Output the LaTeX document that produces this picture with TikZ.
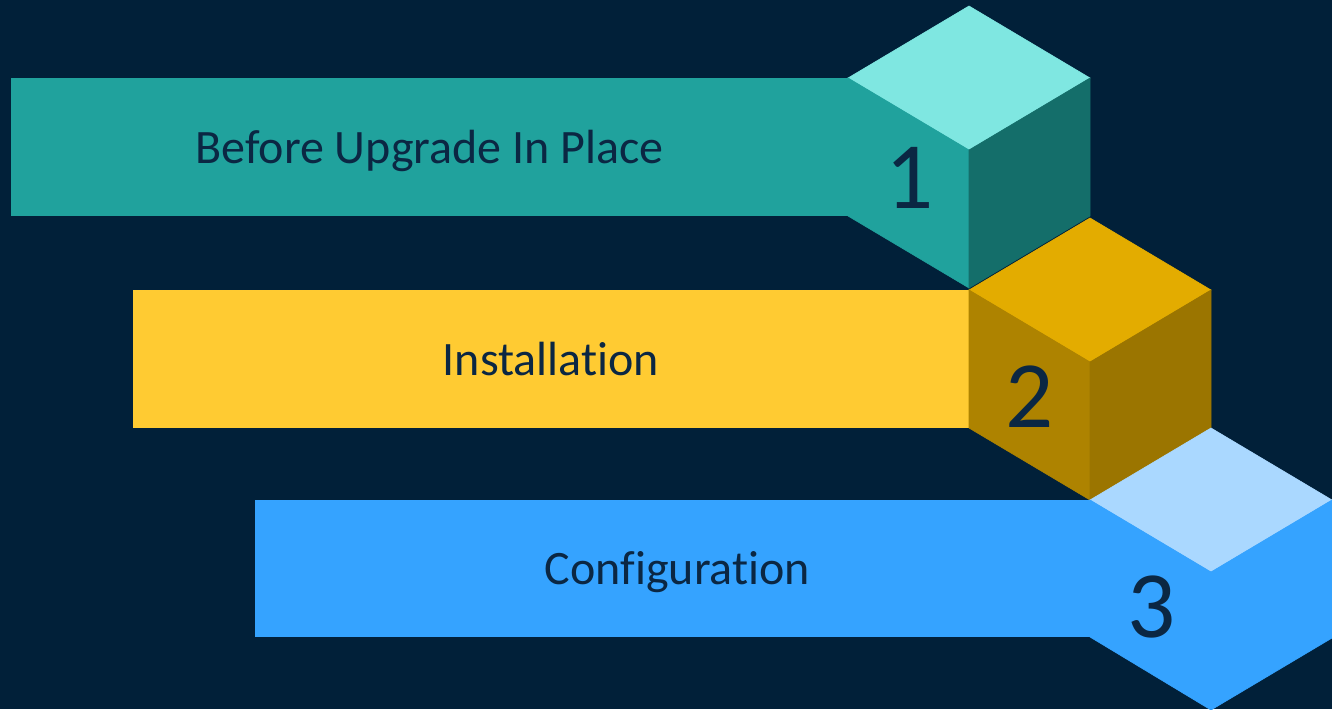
\documentclass[tikz,border=0pt]{standalone}
\usepackage{fontspec}
\setmainfont[Ligatures=NoCommon]{Carlito}
\usepackage{tikz}
\usetikzlibrary{calc}

\definecolor{bgnavy}{HTML}{012039}
\definecolor{inknavy}{HTML}{0B2743}
\definecolor{tealbar}{HTML}{20A29D}
\definecolor{tealtop}{HTML}{7FE7E1}
\definecolor{tealside}{HTML}{146E6A}
\definecolor{goldbar}{HTML}{FFCB32}
\definecolor{goldtop}{HTML}{E3AC00}
\definecolor{goldfront}{HTML}{AE8300}
\definecolor{goldside}{HTML}{9B7500}
\definecolor{bluebar}{HTML}{35A3FF}
\definecolor{bluetop}{HTML}{AAD8FF}

\tikzset{
  face/.style={fill=#1, draw=#1, line width=0.6pt, line join=miter},
  steplabel/.style={text=inknavy, anchor=base, yshift=-16pt, font=\fontsize{48}{58}\selectfont},
  stepnum/.style={text=inknavy, anchor=base, font=\fontsize{95}{110}\selectfont}
}

\begin{document}
\begin{tikzpicture}[x=1pt,y=-1pt]
        \useasboundingbox (0,0) rectangle (1332,709);
        \fill [bgnavy] (0,0) rectangle (1332,709);

        % step 1
        \fill [tealbar] (11,78) rectangle (848,216) node[pos=.5, steplabel] (lab1) {Before Upgrade In Place};
        \path [face=tealtop] (848,78) -- (969,6) -- (1090,78) -- (969,150) -- cycle;
        \path [face=tealbar] (848,78) -- (969,150) -- (969,288) -- (848,216) -- cycle;
        \path [face=tealside] (969,150) -- (1090,78) -- (1090,216) -- (969,288) -- cycle;
        \node [stepnum] (num1) at (910,208) {1};

        % step 2
        \fill [goldbar] (133,290) rectangle (969,428) node[pos=.5, steplabel] (lab2) {Installation};
        \path [face=goldtop] (969,290) -- (1090,218) -- (1211,290) -- (1090,362) -- cycle;
        \path [face=goldfront] (969,290) -- (1090,362) -- (1090,500) -- (969,428) -- cycle;
        \path [face=goldside] (1090,362) -- (1211,290) -- (1211,428) -- (1090,500) -- cycle;
        \node [stepnum] (num2) at (1030,427) {2};

        % step 3
        \fill [bluebar] (255,500) rectangle (1090,637) node[pos=.5, steplabel, xshift=5pt] (lab3) {Configuration};
        \path [face=bluetop] (1090,500) -- (1211,428) -- (1332,500) -- (1211,572) -- cycle;
        \path [face=bluebar] (1090,500) -- (1211,572) -- (1211,710) -- (1090,637) -- cycle;
        \path [face=bluebar] (1211,572) -- (1332,500) -- (1332,638) -- (1211,710) -- cycle;
        \node [stepnum] (num3) at (1152,637) {3};
    \end{tikzpicture}
\end{document}
